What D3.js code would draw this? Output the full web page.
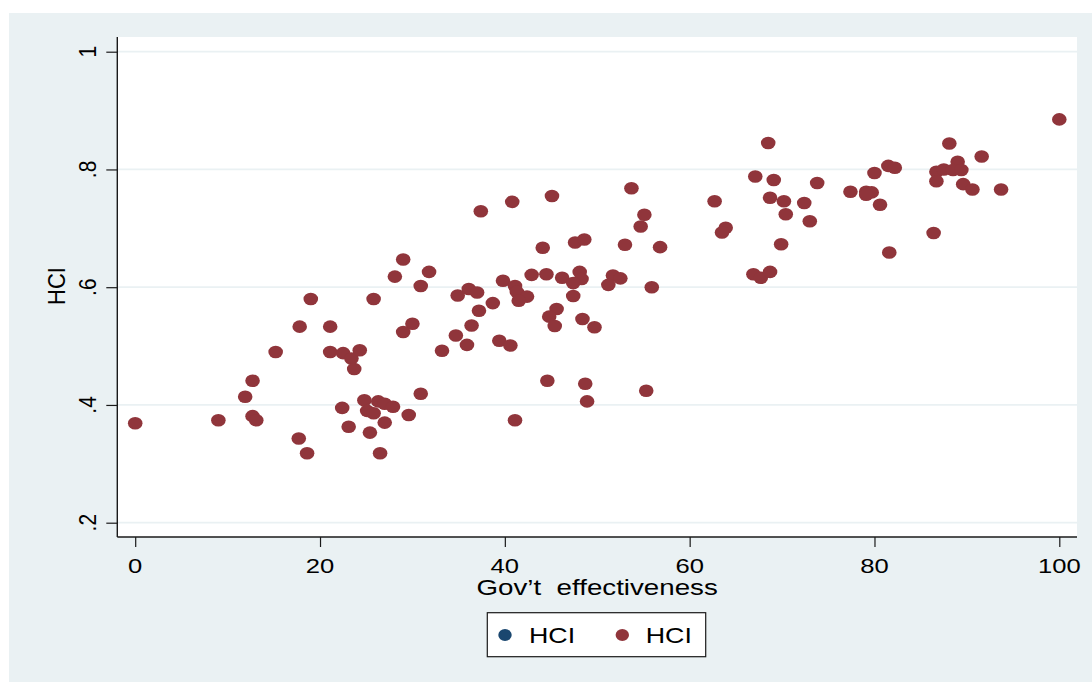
<!DOCTYPE html>
<html>
<head>
<meta charset="utf-8">
<script src="https://cdn.jsdelivr.net/npm/d3@7"></script>
<style>
  html, body { margin: 0; padding: 0; background: #ffffff; }
  svg { display: block; }
  text { font-family: "Liberation Sans", Arial, Helvetica, sans-serif; fill: #000; }
</style>
</head>
<body>
<svg id="chart" width="1092" height="682"></svg>
<script>
// ---- Data ----
const govEffectiveness = [
  0.0, 9.0, 12.7, 11.9, 12.7, 13.1, 15.2, 19.0, 17.8, 17.7, 18.6,
  21.1, 21.1, 22.5, 23.4, 24.3, 23.7, 25.8, 22.4, 23.1, 24.8, 25.1,
  25.8, 25.4, 26.5, 26.3, 27.0, 27.0, 27.9,
  29.0, 28.1, 31.8, 30.9, 30.0, 29.0, 33.2, 34.7, 35.9, 36.4, 37.2,
  38.7, 34.9, 36.1, 37.0, 37.4, 40.8, 45.1, 53.7, 55.1, 54.7, 53.0,
  56.8, 44.1, 47.6, 48.6, 39.8, 41.1, 41.3, 42.4, 41.5, 42.9, 44.5,
  46.2, 48.1, 48.3, 47.4, 47.4, 51.7, 52.5, 51.2, 55.9, 45.6, 44.8,
  45.4, 48.4, 49.7, 39.4, 40.6, 44.6, 48.7, 48.9, 55.3, 41.1, 30.9,
  29.6,
  100.0, 88.1, 91.6, 89.0, 81.5, 82.2, 86.7, 87.5, 88.5, 89.4, 86.7,
  89.6, 90.6, 93.7, 80.0, 77.4, 79.1, 79.7, 79.1, 80.6, 86.4, 81.6,
  68.5, 67.1, 69.1, 73.8, 62.7, 68.7, 70.2, 72.4, 70.4, 73.0, 63.9,
  63.5, 69.9, 66.9, 67.7, 68.7
];
const hciValues = [
  0.369, 0.374, 0.441, 0.414, 0.381, 0.374, 0.490, 0.580, 0.533, 0.343, 0.318,
  0.533, 0.490, 0.488, 0.479, 0.493, 0.461, 0.580, 0.395, 0.363, 0.408, 0.390,
  0.386, 0.353, 0.318, 0.406, 0.402, 0.370, 0.397,
  0.647, 0.618, 0.626, 0.602, 0.538, 0.524, 0.492, 0.518, 0.502, 0.535, 0.560,
  0.573, 0.586, 0.597, 0.591, 0.729, 0.745, 0.755, 0.768, 0.723, 0.703, 0.672,
  0.668, 0.667, 0.676, 0.681, 0.611, 0.602, 0.592, 0.584, 0.577, 0.621, 0.622,
  0.616, 0.626, 0.614, 0.607, 0.585, 0.620, 0.615, 0.604, 0.600, 0.563, 0.550,
  0.534, 0.546, 0.532, 0.509, 0.501, 0.441, 0.436, 0.406, 0.424, 0.374, 0.419,
  0.383,
  0.885, 0.844, 0.822, 0.813, 0.806, 0.803, 0.796, 0.800, 0.799, 0.799, 0.780,
  0.775, 0.766, 0.766, 0.794, 0.762, 0.762, 0.761, 0.757, 0.740, 0.692, 0.659,
  0.845, 0.788, 0.782, 0.777, 0.746, 0.752, 0.746, 0.743, 0.724, 0.712, 0.701,
  0.693, 0.673, 0.622, 0.616, 0.626
];
const xTickValues = [0, 20, 40, 60, 80, 100];
const xTickLabels = ["0", "20", "40", "60", "80", "100"];
const yTickValues = [0.2, 0.4, 0.6, 0.8, 1.0];
const yTickLabels = [".2", ".4", ".6", ".8", "1"];
const legendLabels = ["HCI", "HCI"];
const xTitle = "Gov\u2019t  effectiveness";
const yTitle = "HCI";

// ---- Layout ----
const svg = d3.select("#chart");
const outerBg = "#eaf1f3";
const plot = { left: 117.3, right: 1077, top: 37, bottom: 537 };
const stretch = 1.22;   // horizontal stretch of the reference picture
const maroon = "#90353b";
const navy = "#1a476f";

const x = d3.scaleLinear().domain([0, 100]).range([135.2, 1059.3]);
const y = d3.scaleLinear().domain([0.2, 1]).range([522.7, 51.7]);

// graph region background
svg.append("rect").attr("x", 9).attr("y", 13).attr("width", 1092 - 9).attr("height", 682 - 13)
  .attr("fill", outerBg);
// plot region
svg.append("rect").attr("x", plot.left).attr("y", plot.top)
  .attr("width", plot.right - plot.left).attr("height", plot.bottom - plot.top)
  .attr("fill", "#ffffff");

// gridlines
svg.append("g").selectAll("line").data(yTickValues).join("line")
  .attr("x1", plot.left).attr("x2", plot.right)
  .attr("y1", d => y(d)).attr("y2", d => y(d))
  .attr("stroke", outerBg).attr("stroke-width", 1.8);

// points
svg.append("g").selectAll("ellipse").data(govEffectiveness.map((g, i) => [g, hciValues[i]]))
  .join("ellipse")
  .attr("cx", d => x(d[0])).attr("cy", d => y(d[1]))
  .attr("rx", 7.3).attr("ry", 6.3)
  .attr("fill", maroon);

// y axis
const yAxisG = svg.append("g").attr("transform", `translate(${plot.left},0)`)
  .call(d3.axisLeft(y).tickValues(yTickValues).tickSize(11).tickFormat(""));
yAxisG.select(".domain").attr("d", `M0,${plot.top}V${plot.bottom}`).attr("stroke", "#1a1a1a").attr("stroke-width", 1.4);
yAxisG.selectAll(".tick line").attr("stroke", "#1a1a1a").attr("stroke-width", 1.2);

svg.append("g").selectAll("text").data(yTickValues).join("text")
  .attr("transform", d => `translate(95.5,${y(d)}) scale(1.15,1) rotate(-90)`)
  .attr("text-anchor", "middle")
  .attr("font-size", 21)
  .text((d, i) => yTickLabels[i]);

// x axis
const xAxisG = svg.append("g").attr("transform", `translate(0,${plot.bottom})`)
  .call(d3.axisBottom(x).tickValues(xTickValues).tickSize(10).tickFormat(""));
xAxisG.select(".domain").attr("d", `M${plot.left},0H${plot.right}`).attr("stroke", "#1a1a1a").attr("stroke-width", 1.4);
xAxisG.selectAll(".tick line").attr("stroke", "#1a1a1a").attr("stroke-width", 1.2);

svg.append("g").selectAll("text").data(xTickValues).join("text")
  .attr("transform", d => `translate(${x(d)},573.3) scale(${stretch},1)`)
  .attr("text-anchor", "middle")
  .attr("font-size", 21)
  .text((d, i) => xTickLabels[i]);

// axis titles
svg.append("text")
  .attr("transform", `translate(${(plot.left + plot.right) / 2},595) scale(1.26,1)`)
  .attr("text-anchor", "middle")
  .attr("font-size", 22)
  .style("white-space", "pre")
  .text(xTitle);

svg.append("text")
  .attr("transform", `translate(65,286) scale(1.06,1) rotate(-90)`)
  .attr("text-anchor", "middle")
  .attr("font-size", 22)
  .text(yTitle);

// legend
const legend = svg.append("g");
legend.append("rect").attr("x", 487.3).attr("y", 612.7).attr("width", 705.7 - 487.3).attr("height", 656.7 - 612.7)
  .attr("fill", "#ffffff").attr("stroke", "#1a1a1a").attr("stroke-width", 1.2);
const legendItems = [
  { color: navy, mx: 505, tx: 529 },
  { color: maroon, mx: 622.3, tx: 645.7 }
];
legend.selectAll("ellipse").data(legendItems).join("ellipse")
  .attr("cx", d => d.mx).attr("cy", 635).attr("rx", 6.7).attr("ry", 6)
  .attr("fill", d => d.color);
legend.selectAll("text").data(legendItems).join("text")
  .attr("transform", d => `translate(${d.tx},643.3) scale(${stretch},1)`)
  .attr("font-size", 22)
  .text((d, i) => legendLabels[i]);
</script>
</body>
</html>
